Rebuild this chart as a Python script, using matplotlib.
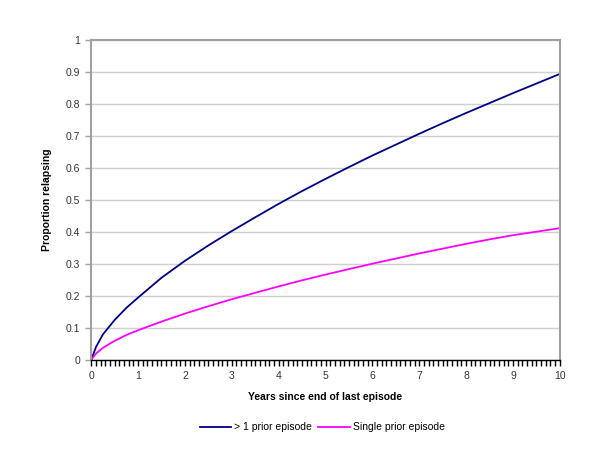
import matplotlib
matplotlib.use("Agg")
import matplotlib.pyplot as plt
from matplotlib.ticker import MultipleLocator, FuncFormatter

plt.rcParams["font.family"] = ["Liberation Sans", "DejaVu Sans"]

years = [0, 0.1, 0.25, 0.5, 0.75, 1, 1.5, 2, 2.5, 3, 3.5, 4, 4.5, 5,
         5.5, 6, 6.5, 7, 7.5, 8, 8.5, 9, 9.5, 10]
multi_prior = [0, 0.04, 0.08, 0.125, 0.163, 0.195, 0.257, 0.31, 0.358, 0.403,
               0.446, 0.488, 0.528, 0.566, 0.603, 0.639, 0.673, 0.707, 0.74,
               0.772, 0.803, 0.834, 0.864, 0.894]
single_prior = [0, 0.02, 0.038, 0.06, 0.078, 0.093, 0.12, 0.145, 0.168, 0.19,
                0.21, 0.23, 0.249, 0.267, 0.284, 0.301, 0.317, 0.333, 0.348,
                0.363, 0.377, 0.39, 0.401, 0.412]
series_labels = ["> 1 prior episode", "Single prior episode"]
x_label = "Years since end of last episode"
y_label = "Proportion relapsing"

fig = plt.figure(figsize=(6, 4.5), dpi=100)
ax = fig.add_axes([0.152, 0.2, 0.781, 0.711])

ax.plot(years, multi_prior, color="#000080", lw=1.3, label=series_labels[0])
ax.plot(years, single_prior, color="#ff00ff", lw=1.3, label=series_labels[1])

ax.set_xlim(0, 10)
ax.set_ylim(0, 1)
ax.xaxis.set_major_locator(MultipleLocator(1))
ax.xaxis.set_minor_locator(MultipleLocator(0.1))
ax.yaxis.set_major_locator(MultipleLocator(0.1))
ax.yaxis.set_major_formatter(FuncFormatter(lambda v, p: f"{v:g}"))

ax.grid(axis="y", color="#d0d0d0", lw=1)
ax.set_axisbelow(True)

for side in ["left", "top", "right"]:
    ax.spines[side].set_color("#a0a0a0")
    ax.spines[side].set_linewidth(1.5)
ax.spines["bottom"].set_color("black")
ax.spines["bottom"].set_linewidth(1)

ax.tick_params(axis="x", which="both", direction="out", length=4, width=1,
               color="black", labelsize=7.5, labelcolor="#333333", pad=4)
ax.tick_params(axis="y", direction="out", length=4, width=1,
               color="#a0a0a0", labelsize=7.5, labelcolor="#333333", pad=4)

ax.set_xlabel(x_label, fontsize=7.5, fontweight="bold", labelpad=8)
ax.set_ylabel(y_label, fontsize=7.5, fontweight="bold", labelpad=10)

fig.legend(loc="center", bbox_to_anchor=(0.537, 0.05), ncol=2, frameon=False,
           fontsize=7.5, handlelength=3.0, handletextpad=0.3, columnspacing=0.6)

fig.savefig("out.png", dpi=100)
